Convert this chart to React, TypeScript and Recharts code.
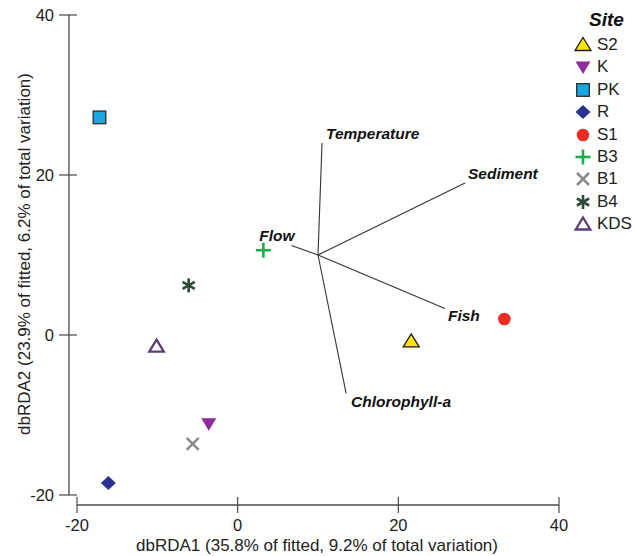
import React from "react";
import { ScatterChart, Scatter, XAxis, YAxis, ReferenceLine, Legend } from "recharts";

// sites (dbRDA scores)
const sites = ["S2", "K", "PK", "R", "S1", "B3", "B1", "B4", "KDS"];
const siteX = [21.6, -3.6, -17.2, -16.1, 33.2, 3.2, -5.6, -6.1, -10.1];
const siteY = [-0.8, -11.1, 27.2, -18.5, 2.0, 10.6, -13.6, 6.2, -1.4];

// environmental vectors
const vectorNames = ["Temperature", "Sediment", "Flow", "Fish", "Chlorophyll-a"];
const vectorX = [10.5, 28.3, 6.7, 25.8, 13.5];
const vectorY = [24.0, 19.0, 11.2, 3.3, -7.3];
const vectorOrigin = { x: 10, y: 10 };

const xTicks = [-20, 0, 20, 40];
const yTicks = [-20, 0, 20, 40];

const FONT = '"Liberation Sans", Arial, Helvetica, sans-serif';
const AXIS = "#4d4848";
const TEXT = "#222222";

// where each vector name sits relative to the tip (px)
const vectorLabelStyle: Record<string, { dx: number; dy: number; anchor: string }> = {
  Temperature: { dx: 4, dy: -4, anchor: "start" },
  Sediment: { dx: 3, dy: -4, anchor: "start" },
  Flow: { dx: 3, dy: -4, anchor: "end" },
  Fish: { dx: 3, dy: 12, anchor: "start" },
  "Chlorophyll-a": { dx: 5, dy: 14, anchor: "start" },
};

function Marker({ site, cx, cy }: { site: string; cx: number; cy: number }) {
  switch (site) {
    case "S2":
      return (
        <polygon
          points={`${cx},${cy - 7.5} ${cx + 8},${cy + 5.5} ${cx - 8},${cy + 5.5}`}
          fill="#ffe600"
          stroke="#1a1a1a"
          strokeWidth={1.3}
        />
      );
    case "K":
      return (
        <polygon
          points={`${cx - 7.5},${cy - 5.5} ${cx + 7.5},${cy - 5.5} ${cx},${cy + 7}`}
          fill="#8e2c9c"
        />
      );
    case "PK":
      return (
        <rect x={cx - 6.3} y={cy - 6.3} width={12.6} height={12.6} fill="#19a7e0" stroke="#2b2b2b" strokeWidth={1.3} />
      );
    case "R":
      return (
        <polygon
          points={`${cx},${cy - 7} ${cx + 7.5},${cy} ${cx},${cy + 7} ${cx - 7.5},${cy}`}
          fill="#2b3190"
        />
      );
    case "S1":
      return <circle cx={cx} cy={cy} r={6.3} fill="#ee2b25" />;
    case "B3":
      return (
        <g stroke="#1eab4c" strokeWidth={2.6}>
          <line x1={cx - 7.5} x2={cx + 7.5} y1={cy} y2={cy} />
          <line x1={cx} x2={cx} y1={cy - 7.5} y2={cy + 7.5} />
        </g>
      );
    case "B1":
      return (
        <g stroke="#8a8a8a" strokeWidth={2.5}>
          <line x1={cx - 6} x2={cx + 6} y1={cy - 6} y2={cy + 6} />
          <line x1={cx - 6} x2={cx + 6} y1={cy + 6} y2={cy - 6} />
        </g>
      );
    case "B4":
      return (
        <g stroke="#2d4a3c" strokeWidth={2.6}>
          <line x1={cx} x2={cx} y1={cy - 7} y2={cy + 7} />
          <line x1={cx - 6.1} x2={cx + 6.1} y1={cy - 3.5} y2={cy + 3.5} />
          <line x1={cx - 6.1} x2={cx + 6.1} y1={cy + 3.5} y2={cy - 3.5} />
        </g>
      );
    case "KDS":
      return (
        <polygon
          points={`${cx},${cy - 6.5} ${cx + 7.3},${cy + 5.5} ${cx - 7.3},${cy + 5.5}`}
          fill="#ffffff"
          stroke="#5c3e72"
          strokeWidth={2.3}
        />
      );
    default:
      return null;
  }
}

const XTick = (props: any) => {
  const { x, y, payload } = props;
  return (
    <g>
      <line x1={x} x2={x} y1={y - 8} y2={y + 8} stroke={AXIS} strokeWidth={1.2} />
      <text x={x} y={y + 26} textAnchor="middle" fontSize={16.5} fill={TEXT} fontFamily={FONT}>
        {payload.value}
      </text>
    </g>
  );
};

const YTick = (props: any) => {
  const { x, y, payload } = props;
  return (
    <g>
      <line x1={x - 10} x2={x + 8} y1={y} y2={y} stroke={AXIS} strokeWidth={1.2} />
      <text x={x - 15} y={y + 6} textAnchor="end" fontSize={16.5} fill={TEXT} fontFamily={FONT}>
        {payload.value}
      </text>
    </g>
  );
};

const XTitle = (props: any) => {
  const vb = props.viewBox;
  return (
    <text x={vb.x + vb.width / 2 + 3} y={vb.y + 46} textAnchor="middle" fontSize={17} fill={TEXT} fontFamily={FONT}>
      dbRDA1 (35.8% of fitted, 9.2% of total variation)
    </text>
  );
};

const YTitle = (props: any) => {
  const vb = props.viewBox;
  const cx = vb.x + 15;
  const cy = vb.y + vb.height / 2 - 6;
  return (
    <text
      x={cx}
      y={cy}
      transform={`rotate(-90 ${cx} ${cy})`}
      textAnchor="middle"
      dominantBaseline="central"
      fontSize={17}
      fill={TEXT}
      fontFamily={FONT}
    >
      dbRDA2 (23.9% of fitted, 6.2% of total variation)
    </text>
  );
};

const VectorLabel = (props: any) => {
  const { cx, cy, payload } = props;
  const s = vectorLabelStyle[payload.name];
  return (
    <text
      x={cx + s.dx}
      y={cy + s.dy}
      textAnchor={s.anchor}
      fontSize={15.5}
      fontWeight="bold"
      fontStyle="italic"
      fill="#111111"
      fontFamily={FONT}
    >
      {payload.name}
    </text>
  );
};

const SiteLegend = () => (
  <div style={{ position: "relative", width: 65, height: 240, fontFamily: FONT, color: TEXT }}>
    <div
      style={{
        position: "absolute",
        left: 19,
        top: 10,
        lineHeight: "20px",
        fontSize: 19,
        fontWeight: "bold",
        fontStyle: "italic",
        color: "#111",
      }}
    >
      Site
    </div>
    {sites.map((s, i) => (
      <div
        key={s}
        style={{
          position: "absolute",
          left: 0,
          top: 35 + i * 22.4,
          height: 20,
          display: "flex",
          alignItems: "center",
          whiteSpace: "nowrap",
        }}
      >
        <svg width={26} height={20}>
          <Marker site={s} cx={13} cy={10} />
        </svg>
        <span style={{ fontSize: 17, marginLeft: 1 }}>{s}</span>
      </div>
    ))}
  </div>
);

export default function App() {
  const vectorData = vectorNames.map((name, i) => ({ x: vectorX[i], y: vectorY[i], name }));

  return (
    <div style={{ position: "absolute", left: 0, top: 0, width: 635, height: 556, background: "#ffffff" }}>
      <ScatterChart width={635} height={556} margin={{ top: 15, right: 76, bottom: 1, left: 9 }}>
        <XAxis
          type="number"
          dataKey="x"
          domain={[-20, 40]}
          ticks={xTicks}
          interval={0}
          padding={{ left: 8 }}
          axisLine={false}
          tickLine={false}
          tickSize={0}
          tickMargin={0}
          height={50}
          tick={<XTick />}
          allowDataOverflow
          label={<XTitle />}
        />
        <YAxis
          type="number"
          dataKey="y"
          domain={[-20, 40]}
          ticks={yTicks}
          interval={0}
          padding={{ bottom: 10 }}
          axisLine={false}
          tickLine={false}
          tickSize={0}
          tickMargin={0}
          width={60}
          tick={<YTick />}
          allowDataOverflow
          label={<YTitle />}
        />

        {/* detached axis lines */}
        <ReferenceLine
          segment={[{ x: -20, y: -21.25 }, { x: 40, y: -21.25 }]}
          stroke={AXIS}
          strokeWidth={1.3}
          ifOverflow="visible"
        />
        <ReferenceLine
          segment={[{ x: -21, y: -20 }, { x: -21, y: 40 }]}
          stroke={AXIS}
          strokeWidth={1.3}
          ifOverflow="visible"
        />

        {vectorNames.map((n, i) => (
          <ReferenceLine
            key={n}
            segment={[vectorOrigin, { x: vectorX[i], y: vectorY[i] }]}
            stroke="#333333"
            strokeWidth={1.1}
            ifOverflow="visible"
          />
        ))}

        <Scatter data={vectorData} shape={VectorLabel} isAnimationActive={false} legendType="none" />

        {sites.map((s, i) => (
          <Scatter
            key={s}
            name={s}
            data={[{ x: siteX[i], y: siteY[i] }]}
            shape={(p: any) => <Marker site={s} cx={p.cx} cy={p.cy} />}
            isAnimationActive={false}
          />
        ))}

        <Legend
          layout="horizontal"
          verticalAlign="middle"
          align="center"
          content={<SiteLegend />}
          wrapperStyle={{ left: 570, top: 0, width: 65, height: 240 }}
        />
      </ScatterChart>
    </div>
  );
}
